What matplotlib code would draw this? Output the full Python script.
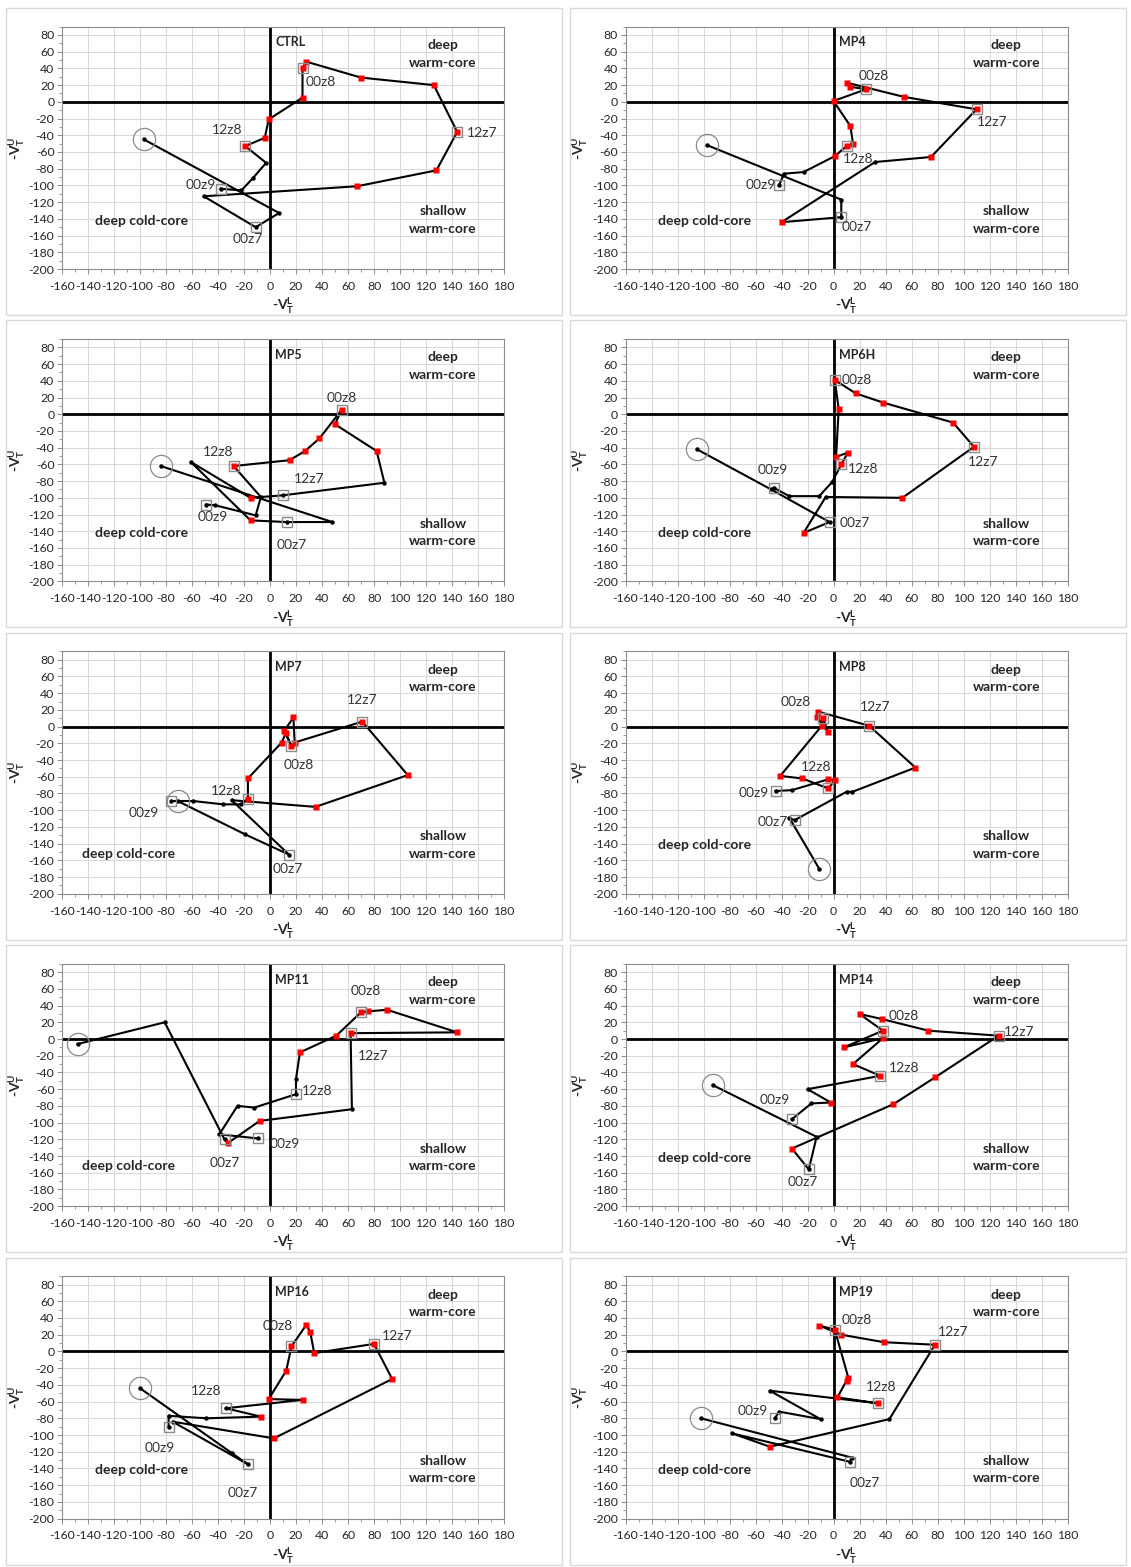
import matplotlib
matplotlib.use("Agg")
import matplotlib.pyplot as plt
from matplotlib.patches import Rectangle
from matplotlib.ticker import MultipleLocator

plt.rcParams['font.family'] = ['Lato', 'DejaVu Sans']
plt.rcParams['mathtext.fontset'] = 'custom'
plt.rcParams['mathtext.rm'] = 'Lato'
plt.rcParams['mathtext.bf'] = 'Lato:bold'
plt.rcParams['axes.unicode_minus'] = False

# ---------------------------------------------------------------------------
# Cyclone phase space tracks (3-hourly): -VT^L (x) vs -VT^U (y)
# phase code: 'k' = black dot, 'r' = red square
# ---------------------------------------------------------------------------
KEY_TIMES = ["00z7", "12z7", "00z8", "12z8", "00z9"]
KEY_INDEX = [2, 6, 10, 14, 18]

CTRL_VL = [-97, 7, -11, -51, 67, 128, 144, 126, 70, 28, 25, 25, -1, -4, -19, -3, -13, -22, -38]
CTRL_VU = [-45, -133, -150, -113, -101, -82, -36, 20, 29, 48, 40, 5, -21, -43, -53, -73, -91, -106, -104]
CTRL_PH = "kkkkrrrrrrrrrrrkkkk"

MP4_VL = [-97, 6, 6, -40, 32, 75, 110, 54, 10, 13, 25, 0, 13, 15, 10, 1, -23, -38, -42]
MP4_VU = [-52, -117, -138, -144, -72, -66, -9, 6, 23, 18, 15, 1, -29, -50, -53, -65, -84, -86, -100]
MP4_PH = "kkkrkrrrrrrrrrrrkkk"

MP5_VL = [-84, 48, 13, -15, -61, -15, 10, 88, 82, 50, 55, 38, 27, 15, -28, -7, -11, -42, -49]
MP5_VU = [-62, -129, -129, -127, -57, -100, -97, -82, -44, -12, 5, -29, -44, -55, -62, -99, -121, -109, -108]
MP5_PH = "kkkrkrkkrrrrrrrkkkk"

MP6H_VL = [-105, -48, -3, -23, -6, 53, 108, 92, 38, 17, 1, 4, 2, 11, 6, -1, -11, -34, -46]
MP6H_VU = [-42, -90, -129, -142, -99, -100, -39, -10, 14, 25, 41, 6, -51, -46, -60, -81, -98, -98, -88]
MP6H_PH = "kkkrkrrrrrrrrrrkkkk"

MP7_VL = [-71, -19, 14.5, -29.5, 35, 106, 71, 19, 18, 11, 16.5, 12, 9, -17, -17, -22, -36, -59, -76]
MP7_VU = [-89, -129, -153, -88, -96, -58, 6, -19, 11, -5, -23, -8, -19, -62, -86, -93, -93, -89, -89]
MP7_PH = "kkkkrrrrrrrrrrrkkkk"

MP8_VL = [-11, -34, -30, 10, 14.5, 63, 27.5, -12, -13, -4, -8, -9, -41, -24, -4, 1, -4, -32, -44.6]
MP8_VU = [-170, -109, -112, -78, -78, -49, 1, 18, 12, -7, 10, 1, -59, -62, -74, -64, -63, -76, -77]
MP8_PH = "kkkkkrrrrrrrrrrrrkk"

MP11_VL = [-148, -81, -35, -32, -8, 63, 62, 144, 90, 75, 70, 51, 23, 20, 20, -12, -25, -39, -9]
MP11_VU = [-6, 20, -120, -124, -98, -84, 7, 8, 35, 33, 32, 4, -16, -48, -66, -82, -80, -114, -119]
MP11_PH = "kkkrrkrrrrrrrkkkkkk"

MP14_VL = [-93, -13, -19, -32, 46, 78, 127, 73, 37, 20, 38, 8, 38, 15, 36, -20, -2, -17, -32]
MP14_VU = [-55, -117, -156, -131, -78, -46, 4, 10, 24, 30, 10, -10, 1, -30, -44, -60, -76, -77, -96]
MP14_PH = "kkkrrrrrrrrrrrrkrkk"

MP16_VL = [-100, -29, -17, -75, 3, 94, 80, 34, 31, 28, 16.5, 12.5, -1, 25, -34, -7, -49, -78, -78]
MP16_VU = [-44, -122, -135, -84, -104, -33, 9, -2, 23, 32, 6, -23, -57, -58, -68, -78, -80, -77, -90]
MP16_PH = "kkkkrrrrrrrrrrkrkkk"

MP19_VL = [-102, 14, 12.5, -78, -49, 43, 78, 39, 6, -11, 1, 11.5, 10, 3, 34, -49, -10, -42, -45]
MP19_VU = [-80, -127, -132, -98, -114, -81, 8, 11, 20, 31, 26, -32, -35, -55, -62, -47, -81, -72, -80]
MP19_PH = "kkkkrkrrrrrrrrrkkkk"

EXPERIMENTS = ["CTRL", "MP4", "MP5", "MP6H", "MP7", "MP8", "MP11", "MP14", "MP16", "MP19"]
TRACKS = {
    "CTRL": (CTRL_VL, CTRL_VU, CTRL_PH),
    "MP4": (MP4_VL, MP4_VU, MP4_PH),
    "MP5": (MP5_VL, MP5_VU, MP5_PH),
    "MP6H": (MP6H_VL, MP6H_VU, MP6H_PH),
    "MP7": (MP7_VL, MP7_VU, MP7_PH),
    "MP8": (MP8_VL, MP8_VU, MP8_PH),
    "MP11": (MP11_VL, MP11_VU, MP11_PH),
    "MP14": (MP14_VL, MP14_VU, MP14_PH),
    "MP16": (MP16_VL, MP16_VU, MP16_PH),
    "MP19": (MP19_VL, MP19_VU, MP19_PH),
}

# text placement of the time stamps (same order as KEY_TIMES)
LABEL_POS = {
    "CTRL": [(-17, -164), (163, -37), (39, 24), (-33, -34), (-53, -100)],
    "MP4": [(18, -150), (122, -24), (31, 31), (19, -68), (-56, -100)],
    "MP5": [(17, -156), (30, -78), (55, 19), (-40, -45), (-44, -123)],
    "MP6H": [(16, -130), (115, -57), (18, 41), (23, -66), (-47, -67)],
    "MP7": [(14, -170), (71, 32), (22, -46), (-34, -77), (-97, -103)],
    "MP8": [(-47, -114), (32, 24), (-29, 29), (-13, -48), (-61, -80)],
    "MP11": [(-35, -148), (79, -20), (74, 57), (36, -62), (11, -126)],
    "MP14": [(-24, -171), (143, 9), (54, 28), (54, -35), (-45, -73)],
    "MP16": [(-21, -169), (98, 19), (6, 31), (-49, -47), (-85, -115)],
    "MP19": [(24, -157), (92, 23), (18, 38), (37, -42), (-62, -71)],
}
COLD_POS = {"MP7": (-109, -152), "MP11": (-109, -152)}

W, H = 1131, 1567
fig = plt.figure(figsize=(W / 100, H / 100), dpi=100)

TXT = '#262626'
for n, name in enumerate(EXPERIMENTS):
    r, c = divmod(n, 2)
    # chart frame
    fig.add_artist(Rectangle(((6 + 563.5 * c) / W, 1 - (8 + 312.4 * r + 307) / H),
                             556 / W, 307 / H, transform=fig.transFigure,
                             fill=False, edgecolor='#d9d9d9', lw=1.0))
    left = 62 + 563.5 * c
    top = 26.6 + 312.4 * r
    ax = fig.add_axes([left / W, 1 - (top + 242.4) / H, 442 / W, 242.4 / H])
    ax.set_xlim(-160, 180)
    ax.set_ylim(-200, 90)
    ax.xaxis.set_major_locator(MultipleLocator(20))
    ax.xaxis.set_minor_locator(MultipleLocator(10))
    ax.set_yticks(range(-200, 81, 20))
    ax.yaxis.set_minor_locator(MultipleLocator(10))
    ax.grid(True, which='major', color='#d9d9d9', lw=0.75, zorder=0)
    ax.set_axisbelow(True)
    for s in ax.spines.values():
        s.set_color('#8c8c8c')
        s.set_linewidth(0.8)
    ax.tick_params(which='major', direction='out', length=3.5, width=0.7,
                   color='#8c8c8c', labelsize=8.8, labelcolor=TXT, pad=2)
    ax.tick_params(which='minor', direction='out', length=2, width=0.6, color='#8c8c8c')
    ax.tick_params(axis='x', which='major', pad=5)

    ax.axhline(0, color='black', lw=2.0, zorder=1.5)
    ax.axvline(0, color='black', lw=2.0, zorder=1.5)

    vl, vu, ph = TRACKS[name]
    ax.plot(vl, vu, '-', color='black', lw=1.5, zorder=3)
    kx = [a for a, p in zip(vl, ph) if p == 'k']
    ky = [b for b, p in zip(vu, ph) if p == 'k']
    rx = [a for a, p in zip(vl, ph) if p == 'r']
    ry = [b for b, p in zip(vu, ph) if p == 'r']
    ax.plot(kx, ky, 'o', ms=3.2, color='black', mec='none', zorder=4)
    ax.plot(rx, ry, 's', ms=4.5, color='#ff0000', mec='none', zorder=5)
    ax.plot([vl[i] for i in KEY_INDEX], [vu[i] for i in KEY_INDEX], 's', ms=7.5,
            mfc='none', mec='#8a8a8a', mew=1.0, zorder=6)
    ax.plot(vl[0], vu[0], 'o', ms=16, mfc='none', mec='#8a8a8a', mew=0.9, zorder=6)

    for lab, (tx, ty) in zip(KEY_TIMES, LABEL_POS[name]):
        ax.text(tx, ty, lab, fontsize=10, color='#333333', ha='center', va='center', zorder=7)

    ax.text(4, 71, name, fontsize=9, fontweight='bold', color=TXT, ha='left', va='center')
    ax.text(133, 68, "deep", fontsize=10, fontweight='bold', color=TXT, ha='center', va='center')
    ax.text(133, 47, "warm-core", fontsize=10, fontweight='bold', color=TXT, ha='center', va='center')
    ax.text(133, -131, "shallow", fontsize=10, fontweight='bold', color=TXT, ha='center', va='center')
    ax.text(133, -152, "warm-core", fontsize=10, fontweight='bold', color=TXT, ha='center', va='center')
    cx, cy = COLD_POS.get(name, (-99, -142))
    ax.text(cx, cy, "deep cold-core", fontsize=10, fontweight='bold', color=TXT, ha='center', va='center')

    ax.set_ylabel(r'-V$_\mathbf{T}^\mathbf{U}$', fontsize=10, fontweight='bold', color=TXT)
    ax.yaxis.set_label_coords(-0.08, 0.5)
    ax.set_xlabel(r'-V$_\mathbf{T}^\mathbf{L}$', fontsize=10, fontweight='bold', color=TXT)
    ax.xaxis.set_label_coords(0.5, -0.11)

fig.savefig("out.png", dpi=100)
